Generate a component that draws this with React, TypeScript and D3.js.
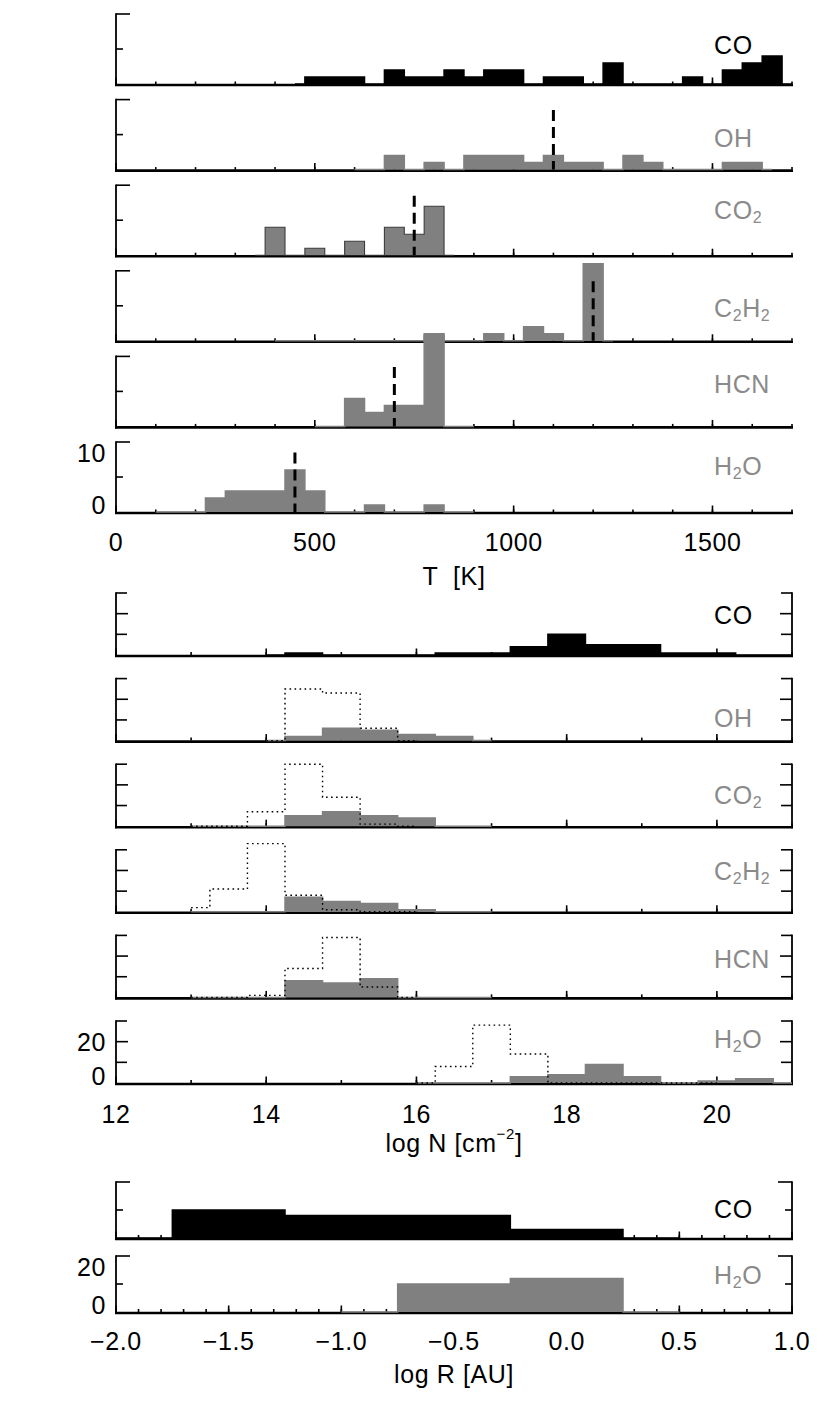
import React, { useEffect, useRef } from "react";
import * as d3 from "d3";

// ---------------- data ----------------
// excitation temperature histograms, bin width 50 K (first bin centre + counts)
const tStep = 50;
const tCOStart = 450;
const tCOCounts = [0, 1, 1, 1, 0, 2, 1, 1, 2, 1, 2, 2, 0, 1, 1, 0, 3, 0, 0, 0, 1, 0, 2, 3, 4, 0];
const tOHStart = 600;
const tOHCounts = [0, 0, 2, 0, 1, 0, 2, 2, 2, 1, 2, 1, 1, 0, 2, 1, 0, 0, 0, 1, 1, 0];
const tCO2Start = 350;
const tCO2Counts = [0, 4, 0, 1, 0, 2, 0, 4, 3, 7, 0];
const tC2H2Start = 400;
const tC2H2Counts = [0, 0, 0, 0, 0, 0, 0, 0, 1, 0, 0, 1, 0, 2, 1, 0, 11, 0];
const tHCNStart = 500;
const tHCNCounts = [0, 0, 4, 2, 3, 3, 13, 0, 0];
const tH2OStart = 100;
const tH2OCounts = [0, 0, 0, 2, 3, 3, 3, 6, 3, 0, 0, 1, 0, 0, 1, 0, 0];
// median temperatures (dashed markers)
const tMedianOH = 1100;
const tMedianCO2 = 750;
const tMedianC2H2 = 1200;
const tMedianHCN = 700;
const tMedianH2O = 450;

// column density histograms, bin width 0.5 dex (filled) and dotted outlines
const nStep = 0.5;
const nCOStart = 14;
const nCOCounts = [0, 1, 0, 0, 0, 1, 1, 4, 10, 5, 5, 1, 1, 0, 0];
const nOHStart = 14;
const nOHCounts = [0, 2, 6, 5, 3, 2, 0];
const nOHDotStart = 14;
const nOHDotCounts = [0, 25, 23, 6, 0];
const nCO2Start = 13;
const nCO2Counts = [0, 0, 0, 5, 7, 5, 4, 0, 0];
const nCO2DotStart = 13;
const nCO2DotCounts = [0, 0, 7, 30, 14, 1, 0];
const nC2H2Start = 13;
const nC2H2Counts = [0, 0, 0, 7, 5, 4, 1, 0, 0];
const nC2H2DotStart = 13;
const nC2H2DotCounts = [2, 11, 33, 8, 1, 0, 0];
const nHCNStart = 13;
const nHCNCounts = [0, 0, 0, 8, 7, 9, 0, 0, 0];
const nHCNDotStart = 13;
const nHCNDotCounts = [0, 0, 1, 14, 29, 5, 0];
const nH2OStart = 16;
const nH2OCounts = [0, 0, 0, 3, 4, 9, 3, 0, 1, 2, 0];
const nH2ODotStart = 16;
const nH2ODotCounts = [0, 8, 28, 14, 0, 0, 0, 0, 0];

// emitting radius histograms, bin width 0.5 dex
const rStep = 0.5;
const rCOStart = -2;
const rCOCounts = [0, 10, 8, 8, 3, 0];
const rH2OStart = -1;
const rH2OCounts = [0, 10, 12, 0];

// axis ticks / labels
const tXMajor = [0, 500, 1000, 1500];
const tXMinor = d3.range(0, 1701, 100);
const nXMajor = [12, 14, 16, 18, 20];
const nXMinor = d3.range(12, 21.01, 1);
const rXMajor = [-2, -1.5, -1, -0.5, 0, 0.5, 1];
const rXMinor = d3.range(0, 31).map((k) => -2 + k / 10);

// ---------------- layout ----------------
const W = 830;
const H = 1426;
const X_LEFT = 116;
const X_RIGHT = 792;
const GRAY = "#808080";
const LABEL_GRAY = "#8a8a8a";
const FONT = "'Liberation Sans', Arial, sans-serif";
const FS = 25;

type Bin = { c: number; v: number };

const toBins = (start: number, step: number, counts: number[]): Bin[] =>
  counts.map((v, k) => ({ c: start + k * step, v }));

const App = () => {
  const ref = useRef<SVGSVGElement>(null);

  useEffect(() => {
    drawChart();
  }, []);

  const addText = (g: any, x: number, y: number, str: string, color: string, anchor = "start") => {
    // "_2" -> subscript, "^-2" -> superscript
    const t = g
      .append("text")
      .attr("x", x)
      .attr("y", y)
      .attr("fill", color)
      .attr("font-family", FONT)
      .attr("font-size", FS)
      .attr("letter-spacing", 0.6)
      .attr("text-anchor", anchor)
      .attr("dominant-baseline", "central")
      .style("white-space", "pre");
    const parts = str.split(/(_[^_^]|\^−?\d)/).filter((s) => s.length);
    let shift = 0;
    parts.forEach((part) => {
      if (part[0] === "_") {
        t.append("tspan").attr("font-size", 16).attr("dy", 7 - shift).text(part.slice(1));
        shift = 7;
      } else if (part[0] === "^") {
        t.append("tspan").attr("font-size", 15).attr("dy", -10 - shift).text(part.slice(1));
        shift = -10;
      } else {
        t.append("tspan").attr("dy", -shift).style("white-space", "pre").text(part);
        shift = 0;
      }
    });
  };

  const drawChart = () => {
    const svg = d3.select(ref.current);
    svg.selectAll("*").remove();

    const sections = [
      {
        domain: [0, 1700],
        step: tStep,
        ymax: 10,
        base0: 84,
        pitch: 85.6,
        height: 70,
        yTicks: [0, 5, 10],
        yMajor: [0, 10],
        yLabels: [0, 10],
        yMajLen: 14,
        yMinLen: 7,
        rightAxis: false,
        xMajor: tXMajor,
        xMinor: tXMinor,
        xMinLen: 2.5,
        fmt: d3.format("d"),
        xLabelDy: 30,
        title: "T  [K]",
        titleDy: 64,
        labelDy: [31, 38, 25, 37, 28, 24],
        panels: [
          { name: "CO", color: "#000", bins: toBins(tCOStart, tStep, tCOCounts) },
          { name: "OH", color: GRAY, bins: toBins(tOHStart, tStep, tOHCounts), median: tMedianOH },
          { name: "CO_2", color: GRAY, bins: toBins(tCO2Start, tStep, tCO2Counts), median: tMedianCO2, edge: "#3c3c3c" },
          { name: "C_2H_2", color: GRAY, bins: toBins(tC2H2Start, tStep, tC2H2Counts), median: tMedianC2H2 },
          { name: "HCN", color: GRAY, bins: toBins(tHCNStart, tStep, tHCNCounts), median: tMedianHCN },
          { name: "H_2O", color: GRAY, bins: toBins(tH2OStart, tStep, tH2OCounts), median: tMedianH2O },
        ],
      },
      {
        domain: [12, 21],
        step: nStep,
        ymax: 30,
        base0: 655,
        pitch: 85.6,
        height: 62,
        yTicks: [0, 10, 20, 30],
        yMajor: [0, 20],
        yLabels: [0, 20],
        yMajLen: 12,
        yMinLen: 11,
        rightAxis: true,
        xMajor: nXMajor,
        xMinor: nXMinor,
        xMinLen: 3,
        fmt: d3.format("d"),
        xLabelDy: 31,
        title: "log N [cm^−2]",
        titleDy: 60,
        labelDy: [22, 39, 31, 21, 24, 18],
        panels: [
          { name: "CO", color: "#000", bins: toBins(nCOStart, nStep, nCOCounts) },
          { name: "OH", color: GRAY, bins: toBins(nOHStart, nStep, nOHCounts), dots: toBins(nOHDotStart, nStep, nOHDotCounts) },
          { name: "CO_2", color: GRAY, bins: toBins(nCO2Start, nStep, nCO2Counts), dots: toBins(nCO2DotStart, nStep, nCO2DotCounts) },
          { name: "C_2H_2", color: GRAY, bins: toBins(nC2H2Start, nStep, nC2H2Counts), dots: toBins(nC2H2DotStart, nStep, nC2H2DotCounts) },
          { name: "HCN", color: GRAY, bins: toBins(nHCNStart, nStep, nHCNCounts), dots: toBins(nHCNDotStart, nStep, nHCNDotCounts) },
          { name: "H_2O", color: GRAY, bins: toBins(nH2OStart, nStep, nH2OCounts), dots: toBins(nH2ODotStart, nStep, nH2ODotCounts) },
        ],
      },
      {
        domain: [-2, 1],
        step: rStep,
        ymax: 20,
        base0: 1238,
        pitch: 74,
        height: 56,
        yTicks: [0, 10, 20],
        yMajor: [0, 20],
        yLabels: [0, 20],
        yMajLen: 14,
        yMinLen: 7,
        rightAxis: true,
        xMajor: rXMajor,
        xMinor: rXMinor,
        xMinLen: 3,
        fmt: d3.format(".1f"),
        xLabelDy: 29,
        title: "log R [AU]",
        titleDy: 62,
        labelDy: [27, 19],
        panels: [
          { name: "CO", color: "#000", bins: toBins(rCOStart, rStep, rCOCounts) },
          { name: "H_2O", color: GRAY, bins: toBins(rH2OStart, rStep, rH2OCounts) },
        ],
      },
    ];

    sections.forEach((s) => {
      const x = d3.scaleLinear().domain(s.domain).range([X_LEFT, X_RIGHT]);
      const nP = s.panels.length;
      let lastBase = 0;

      s.panels.forEach((p: any, i: number) => {
        const base = s.base0 + i * s.pitch;
        lastBase = base;
        const y = d3.scaleLinear().domain([0, s.ymax]).range([base, base - s.height]);
        const g = svg.append("g").attr("class", "panel");

        // x axis line + ticks
        g.append("line")
          .attr("x1", X_LEFT - 1)
          .attr("x2", X_RIGHT + 1)
          .attr("y1", base + 1)
          .attr("y2", base + 1)
          .attr("stroke", "#000")
          .attr("stroke-width", 2.6);
        g.selectAll(".xminor")
          .data(s.xMinor)
          .enter()
          .append("line")
          .attr("x1", (d) => x(d))
          .attr("x2", (d) => x(d))
          .attr("y1", base)
          .attr("y2", base - s.xMinLen)
          .attr("stroke", "#000")
          .attr("stroke-width", 1.6);
        g.selectAll(".xmajor")
          .data(s.xMajor)
          .enter()
          .append("line")
          .attr("x1", (d) => x(d))
          .attr("x2", (d) => x(d))
          .attr("y1", base)
          .attr("y2", base - 6.5)
          .attr("stroke", "#000")
          .attr("stroke-width", 1.6);

        // y axis (left, optionally right)
        const sides = s.rightAxis ? [X_LEFT, X_RIGHT] : [X_LEFT];
        sides.forEach((ax) => {
          const dir = ax === X_LEFT ? 1 : -1;
          g.append("line")
            .attr("x1", ax)
            .attr("x2", ax)
            .attr("y1", base + 2)
            .attr("y2", y(s.ymax) - 0.8)
            .attr("stroke", "#000")
            .attr("stroke-width", 1.8);
          g.selectAll(".ytick" + dir)
            .data(s.yTicks.filter((t) => t > 0))
            .enter()
            .append("line")
            .attr("x1", ax)
            .attr("x2", (d) => ax + dir * (s.yMajor.includes(d) ? s.yMajLen : s.yMinLen))
            .attr("y1", (d) => y(d))
            .attr("y2", (d) => y(d))
            .attr("stroke", "#000")
            .attr("stroke-width", 1.6);
        });

        // filled histogram (IDL psym=10 style steps)
        const area = d3
          .area<Bin>()
          .x((d) => x(d.c))
          .y0(y(0))
          .y1((d) => y(d.v))
          .curve(d3.curveStep);
        const line = d3
          .line<Bin>()
          .x((d) => x(d.c))
          .y((d) => y(d.v))
          .curve(d3.curveStep);
        g.append("path").attr("d", area(p.bins)).attr("fill", p.color).attr("stroke", "none");
        g.append("path")
          .attr("d", line(p.bins))
          .attr("fill", "none")
          .attr("stroke", p.edge || p.color)
          .attr("stroke-width", p.edge ? 1.1 : 1.5);

        // dotted outline histogram
        if (p.dots) {
          g.append("path")
            .attr("d", line(p.dots))
            .attr("fill", "none")
            .attr("stroke", "#000")
            .attr("stroke-width", 1.4)
            .attr("stroke-dasharray", "1.6,3.4");
        }

        // dashed median marker
        if (p.median !== undefined) {
          g.append("line")
            .attr("x1", x(p.median))
            .attr("x2", x(p.median))
            .attr("y1", y(8.5))
            .attr("y2", y(0))
            .attr("stroke", "#000")
            .attr("stroke-width", 3)
            .attr("stroke-dasharray", "11,6");
        }

        // species label
        addText(g, 714, base - s.height + s.labelDy[i], p.name, p.name === "CO" ? "#000" : LABEL_GRAY);

        // y tick labels on the lowest panel
        if (i === nP - 1) {
          s.yLabels.forEach((v) => {
            const ly = Math.min(Math.max(y(v), base - s.height + 11), base - 7);
            addText(g, 106, ly, String(v), "#000", "end");
          });
        }
      });

      // x tick labels + title under the lowest panel
      const ga = svg.append("g").attr("class", "xlabels");
      s.xMajor.forEach((v) => {
        addText(ga, x(v), lastBase + s.xLabelDy, s.fmt(v), "#000", "middle");
      });
      addText(ga, (X_LEFT + X_RIGHT) / 2, lastBase + s.titleDy, s.title, "#000", "middle");
    });
  };

  return (
    <div style={{ position: "absolute", left: 0, top: 0, background: "#fff" }}>
      <svg ref={ref} width={W} height={H} style={{ display: "block" }}></svg>
    </div>
  );
};

export default App;
